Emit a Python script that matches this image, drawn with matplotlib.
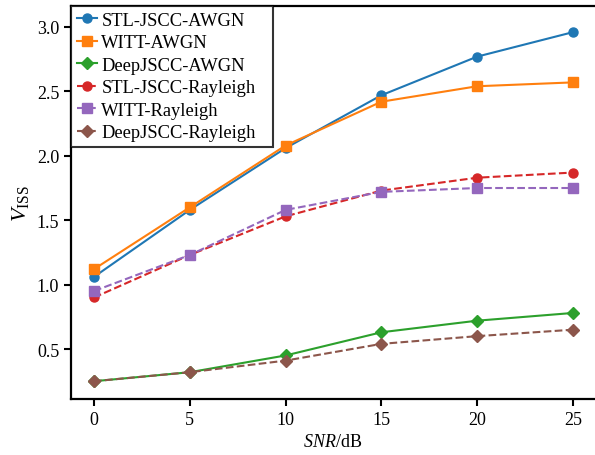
import matplotlib
matplotlib.use("Agg")
import matplotlib.pyplot as plt

snr = [0, 5, 10, 15, 20, 25]
stl_awgn = [1.06, 1.58, 2.06, 2.47, 2.77, 2.96]
witt_awgn = [1.12, 1.60, 2.08, 2.42, 2.54, 2.57]
deep_awgn = [0.25, 0.32, 0.45, 0.63, 0.72, 0.78]
stl_ray = [0.90, 1.23, 1.53, 1.73, 1.83, 1.87]
witt_ray = [0.95, 1.23, 1.58, 1.72, 1.75, 1.75]
deep_ray = [0.25, 0.32, 0.41, 0.54, 0.60, 0.65]

plt.rcParams['font.family'] = ['Liberation Serif', 'DejaVu Serif']
plt.rcParams['mathtext.fontset'] = 'custom'
plt.rcParams['mathtext.rm'] = 'Liberation Serif'
plt.rcParams['mathtext.it'] = 'Liberation Serif:italic'

fig = plt.figure(figsize=(5.95, 4.56), dpi=100)
ax = fig.add_axes([71/595, 56/456, 524/595, 393/456])

series = [
    ("STL-JSCC-AWGN", stl_awgn, '#1f77b4', 'o', '-'),
    ("WITT-AWGN", witt_awgn, '#ff7f0e', 's', '-'),
    ("DeepJSCC-AWGN", deep_awgn, '#2ca02c', 'D', '-'),
    ("STL-JSCC-Rayleigh", stl_ray, '#d62728', 'o', '--'),
    ("WITT-Rayleigh", witt_ray, '#9467bd', 's', '--'),
    ("DeepJSCC-Rayleigh", deep_ray, '#8c564b', 'D', '--'),
]
for name, vals, c, m, ls in series:
    ax.plot(snr, vals, color=c, marker=m, linestyle=ls, linewidth=1.5,
            markersize=6.5, label=name)

ax.set_xlim(-1.2, 26.15)
ax.set_ylim(0.112, 3.163)
ax.set_xticks(snr)
ax.set_yticks([0.5, 1.0, 1.5, 2.0, 2.5, 3.0])
ax.tick_params(labelsize=13, width=1.5, length=5)
for s in ['left', 'top', 'bottom']:
    ax.spines[s].set_linewidth(1.6)
ax.spines['right'].set_visible(False)

ax.set_xlabel(r'$\it{SNR}$/dB', fontsize=13)
ax.set_ylabel(r'$V_{\rm ISS}$', fontsize=16)

leg = ax.legend(loc='upper left', fontsize=13.3, frameon=True, fancybox=False,
                bbox_to_anchor=(0, 0, 202/524, 1), mode='expand',
                borderaxespad=0.0, handlelength=1.1, handletextpad=0.25,
                labelspacing=0.3, borderpad=0.3)
leg.get_frame().set_edgecolor('black')
leg.get_frame().set_linewidth(1.5)

fig.savefig('out.png', dpi=100)
